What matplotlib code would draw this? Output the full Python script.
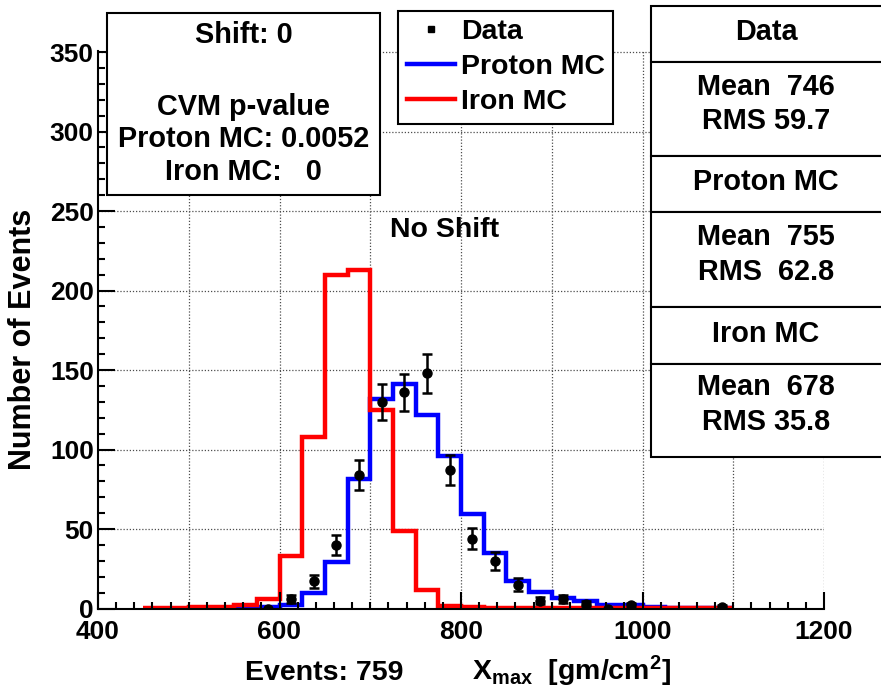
import numpy as np
import matplotlib
matplotlib.use("Agg")
import matplotlib.pyplot as plt
from matplotlib.patches import Rectangle
from matplotlib.lines import Line2D

# Histogram bins (Xmax, gm/cm^2)
edges = np.arange(450, 1101, 25)

# Proton MC, per 25 gm/cm^2 bin from 450
proton_mc = [0, 0, 0, 0, 0, 0.7, 2, 10, 29.5, 81.5, 132, 141, 122, 96, 59.5, 35,
             17.5, 10.6, 6.5, 4.7, 2.2, 2, 1, 0.6, 0.5, 0.5]
# Iron MC
iron_mc = [0.5, 0.5, 0.7, 0.7, 2, 6, 33, 108, 210, 213, 125, 49, 11.6, 1.5, 0.8,
           0.6, 0.5, 0.5, 0.4, 0.4, 0.3, 0.3, 0.3, 0.3, 0.3, 0.3]

# Data points
data_x = [587.5, 612.5, 637.5, 662.5, 687.5, 712.5, 737.5, 762.5, 787.5, 812.5,
          837.5, 862.5, 887.5, 912.5, 937.5, 962.5, 987.5, 1087.5]
data_n = [0, 6, 17, 40, 84, 130, 136, 148, 87, 44, 30, 15, 5, 6, 3, 0, 2, 1]

W, H = 881, 695
plt.rcParams['font.family'] = ['Liberation Sans', 'DejaVu Sans']
plt.rcParams['font.weight'] = 'bold'
plt.rcParams['mathtext.fontset'] = 'custom'
plt.rcParams['mathtext.rm'] = 'Liberation Sans:bold'
plt.rcParams['mathtext.it'] = 'Liberation Sans:bold'
plt.rcParams['mathtext.bf'] = 'Liberation Sans:bold'

fig = plt.figure(figsize=(W / 100, H / 100), dpi=100)
ax = fig.add_axes([98 / W, (H - 608.5) / H, 726 / W, 558 / H])

def fx(px):
    return px / W

def fy(py):
    return 1 - py / H

# grid
for gx in range(500, 1201, 100):
    ax.axvline(gx, color='0.3', lw=0.9, ls=(0, (1, 1.5)), zorder=0.5)
for gy in range(50, 351, 50):
    ax.axhline(gy, color='0.3', lw=0.9, ls=(0, (1, 1.5)), zorder=0.5)

ax.stairs(proton_mc, edges, color='#0000ff', lw=3.2, baseline=None, label='Proton MC')
ax.stairs(iron_mc, edges, color='#ff0000', lw=3.2, baseline=None, label='Iron MC')
ax.errorbar(data_x, data_n, yerr=np.sqrt(data_n), fmt='o', color='k', ms=6.5,
            elinewidth=1.8, capsize=3.8, capthick=1.8, zorder=4)

ax.set_xlim(400, 1200)
ax.set_ylim(0, 351)
ax.set_xticks(range(400, 1201, 200))
ax.set_xticks(range(400, 1201, 20), minor=True)
ax.set_yticks(range(0, 351, 50))
ax.set_yticks(range(0, 351, 10), minor=True)
ax.tick_params(which='both', direction='in', width=1.5, labelsize=19)
ax.tick_params(which='major', length=12)
ax.tick_params(which='minor', length=5)
ax.tick_params(axis='x', pad=8)
ax.tick_params(axis='y', pad=3)
for s in ['top', 'right']:
    ax.spines[s].set_visible(False)
for s in ['left', 'bottom']:
    ax.spines[s].set_linewidth(1.5)

ax.set_ylabel('Number of Events', fontsize=22, fontweight='bold')
ax.yaxis.set_label_coords((23 - 98) / 726, (608.5 - 339) / 558)
ax.yaxis.label.set_va('center')

fig.text(fx(245), fy(680), 'Events: 759', fontsize=20.5, va='baseline', ha='left')
fig.text(fx(472), fy(680), r'X$_{\rm max}$  [gm/cm$^{\rm 2}$]', fontsize=20.5,
         va='baseline', ha='left')
fig.text(fx(445), fy(237), 'No Shift', fontsize=20.5, va='baseline', ha='center')

# legend
handles = [Line2D([], [], marker='s', ls='none', color='k', ms=5),
           Line2D([], [], color='#0000ff', lw=3.2),
           Line2D([], [], color='#ff0000', lw=3.2)]
leg = ax.legend(handles, ['Data', 'Proton MC', 'Iron MC'], loc='upper left',
                bbox_to_anchor=(fx(398), fy(10.5)), bbox_transform=fig.transFigure,
                borderaxespad=0, fancybox=False, framealpha=1, edgecolor='k',
                fontsize=20.5, handlelength=1.7, handletextpad=0.2,
                borderpad=0.3, labelspacing=0.32)
leg.get_frame().set_linewidth(1.5)

def box(x0, y0, x1, y1):
    fig.add_artist(Rectangle((fx(x0), fy(y1)), fx(x1 - x0), (y1 - y0) / H,
                             transform=fig.transFigure, facecolor='white',
                             edgecolor='k', lw=1.5, zorder=5))

# Shift / CVM box
box(107, 13, 380, 195)
for txt, yb in [('Shift: 0', 43), ('CVM p-value', 115),
                ('Proton MC: 0.0052', 147), ('Iron MC:   0', 180)]:
    fig.text(fx(243.5), fy(yb), txt, fontsize=20.8, ha='center', va='baseline', zorder=6)

# stats boxes
for y0, y1 in [(6, 62), (62, 156), (156, 212), (212, 307), (307, 364), (364, 457)]:
    box(651, y0, 890, y1)
stats = [('Data', 40), ('Mean  746', 95), ('RMS 59.7', 129),
         ('Proton MC', 190), ('Mean  755', 245), ('RMS  62.8', 280),
         ('Iron MC', 342), ('Mean  678', 395), ('RMS 35.8', 430)]
for txt, yb in stats:
    fig.text(fx(766), fy(yb), txt, fontsize=20.8, ha='center', va='baseline', zorder=6)

fig.savefig('out.png', dpi=100)
